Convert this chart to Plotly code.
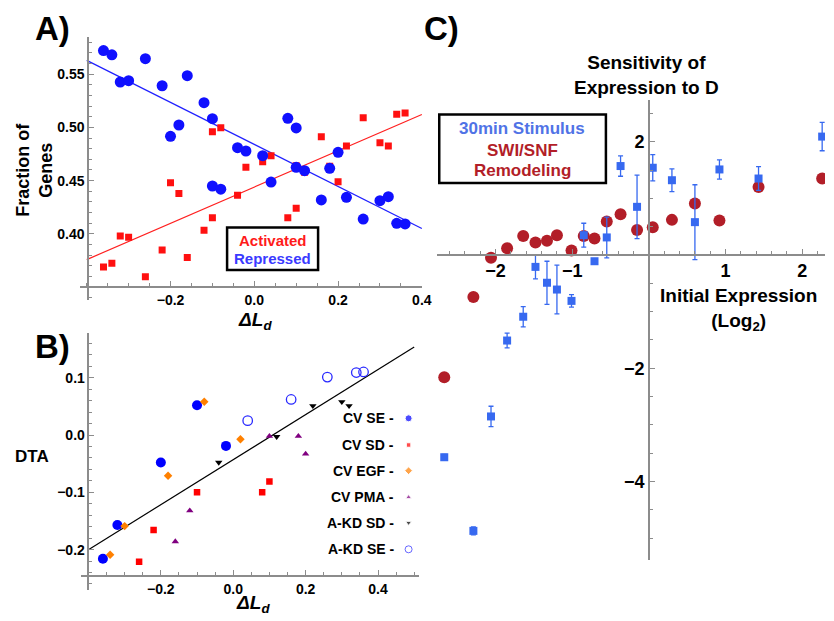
import plotly.graph_objects as go

# The page body adds an 8 px margin; the figure is sized to fill the rest of the window
OFF = 8
W, H = 834 - OFF, 621 - OFF
FONT = "Liberation Sans, Arial, Helvetica, sans-serif"
AX = "#8c8c8c"

# ---------------- Panel A data ----------------
a_x = [-0.36, -0.34, -0.32, -0.30, -0.26, -0.22, -0.20, -0.18, -0.16, -0.12,
       -0.10, -0.10, -0.08, -0.04, -0.02, 0.02, 0.04, 0.08, 0.10, 0.10,
       0.12, 0.16, 0.18, 0.20, 0.22, 0.26, 0.30, 0.32, 0.34, 0.36]
a_repressed = [0.572, 0.568, 0.5425, 0.5437, 0.5644, 0.539, 0.4916, 0.5022, 0.5484, 0.5231,
               0.5081, 0.445, 0.442, 0.4809, 0.4778, 0.4734, 0.4487, 0.5085, 0.4994, 0.4625,
               0.4594, 0.4319, 0.4616, 0.4766, 0.4344, 0.414, 0.4312, 0.435, 0.410, 0.4094]
a_activated = [0.369, 0.3725, 0.398, 0.397, 0.360, 0.385, 0.448, 0.438, 0.378, 0.4035,
               0.4959, 0.4153, 0.4997, 0.4363, 0.4625, 0.4678, 0.4734, 0.4153, 0.4241, 0.464,
               0.458, 0.4912, 0.4635, 0.449, 0.4825, 0.509, 0.4856, 0.4825, 0.5122, 0.5134]
a_fit_repressed = [0.484, -0.197]   # intercept, slope
a_fit_activated = [0.444, 0.170]
a_fit_x = [-0.4, 0.4]
a_xticks = [-0.2, 0.0, 0.2, 0.4]
a_xticktext = ["\u22120.2", "0.0", "0.2", "0.4"]
a_yticks = [0.40, 0.45, 0.50, 0.55]
a_yticktext = ["0.40", "0.45", "0.50", "0.55"]

# ---------------- Panel B data ----------------
b_cv_se_x = [-0.36, -0.32, -0.20, -0.10, -0.02]
b_cv_se_y = [-0.216, -0.157, -0.048, 0.052, -0.019]
b_cv_sd_x = [-0.26, -0.22, -0.10, 0.08, 0.10]
b_cv_sd_y = [-0.221, -0.166, -0.100, -0.100, -0.081]
b_cv_egf_x = [-0.34, -0.30, -0.18, -0.08, 0.02]
b_cv_egf_y = [-0.209, -0.159, -0.071, 0.058, -0.0075]
b_cv_pma_x = [-0.16, -0.12, 0.10, 0.18, 0.20]
b_cv_pma_y = [-0.186, -0.132, -0.002, -0.002, -0.033]
b_akd_sd_x = [-0.04, 0.12, 0.22, 0.30, 0.32]
b_akd_sd_y = [-0.048, -0.003, 0.051, 0.058, 0.051]
b_akd_se_x = [0.04, 0.16, 0.26, 0.34, 0.36]
b_akd_se_y = [0.025, 0.062, 0.101, 0.109, 0.110]
b_fit = [-0.043, 0.393]   # intercept, slope
b_fit_x = [-0.4, 0.5]
b_labels = ["CV SE -", "CV SD -", "CV EGF -", "CV PMA -", "A-KD SD -", "A-KD SE -"]
b_xticks = [-0.2, 0.0, 0.2, 0.4]
b_xticktext = ["\u22120.2", "0.0", "0.2", "0.4"]
b_yticks = [0.1, 0.0, -0.1, -0.2]
b_yticktext = ["0.1", "0.0", "\u22120.1", "\u22120.2"]

# ---------------- Panel C data ----------------
c_x = [-2.67, -2.29, -2.06, -1.85, -1.64, -1.48, -1.33, -1.20, -1.01, -0.85,
       -0.71, -0.55, -0.37, -0.155, 0.05, 0.30, 0.60, 0.92, 1.43, 2.26]
c_stimulus = [-3.57, -4.87, -2.85, -1.51, -1.09, -0.21, -0.49, -0.61, -0.81, 0.35,
              -0.11, 0.31, 1.57, 0.85, 1.54, 1.32, 0.58, 1.51, 1.35, 2.09]
c_stimulus_err = [0.05, 0.07, 0.18, 0.13, 0.18, 0.21, 0.38, 0.43, 0.11, 0.21,
                  0.03, 0.36, 0.18, 0.56, 0.23, 0.20, 0.66, 0.17, 0.21, 0.25]
c_swisnf = [-2.16, -0.74, -0.05, 0.12, 0.335, 0.22, 0.25, 0.35, 0.08, 0.335,
            0.29, 0.59, 0.72, 0.44, 0.49, 0.62, 0.91, 0.61, 1.20, 1.35]
c_xticks = [-2, -1, 1, 2]
c_xticktext = ["\u22122", "\u22121", "1", "2"]
c_yticks = [2, -2, -4]
c_yticktext = ["2", "\u22122", "\u22124"]

RED_A = "#ff1010"
BLUE_A = "#1010ff"
C_BLUE = "rgb(55,105,240)"
C_RED = "rgb(178,30,40)"


def px(x):
    return (x - OFF) / W


def py(y):
    return 1 - (y - OFF) / H


fig = go.Figure()

# ---- Panel A ----
fig.add_trace(go.Scatter(x=a_fit_x, y=[a_fit_activated[0] + a_fit_activated[1] * v for v in a_fit_x],
                         mode="lines", line=dict(color="#ff2020", width=1.2), xaxis="x", yaxis="y"))
fig.add_trace(go.Scatter(x=a_fit_x, y=[a_fit_repressed[0] + a_fit_repressed[1] * v for v in a_fit_x],
                         mode="lines", line=dict(color="#2020ff", width=1.2), xaxis="x", yaxis="y"))
fig.add_trace(go.Scatter(x=a_x, y=a_activated, mode="markers",
                         marker=dict(symbol="square", size=7, color=RED_A), xaxis="x", yaxis="y"))
fig.add_trace(go.Scatter(x=a_x, y=a_repressed, mode="markers",
                         marker=dict(symbol="circle", size=11, color=BLUE_A), xaxis="x", yaxis="y"))

# ---- Panel B ----
fig.add_trace(go.Scatter(x=b_fit_x, y=[b_fit[0] + b_fit[1] * v for v in b_fit_x],
                         mode="lines", line=dict(color="black", width=1.2), xaxis="x2", yaxis="y2"))
b_styles = [
    (b_cv_se_x, b_cv_se_y, "circle", 10, "#0000ff"),
    (b_cv_sd_x, b_cv_sd_y, "square", 6.5, "#ff0000"),
    (b_cv_egf_x, b_cv_egf_y, "diamond", 6.5, "#ff8000"),
    (b_cv_pma_x, b_cv_pma_y, "triangle-up", 6.5, "#800080"),
    (b_akd_sd_x, b_akd_sd_y, "triangle-down", 6.5, "#000000"),
    (b_akd_se_x, b_akd_se_y, "circle-open", 9.5, "#2a2aff"),
]
for xs, ys, sym, sz, col in b_styles:
    fig.add_trace(go.Scatter(x=xs, y=ys, mode="markers",
                             marker=dict(symbol=sym, size=sz, color=col,
                                         line=dict(width=1.3, color=col) if "open" in sym else dict(width=0)),
                             xaxis="x2", yaxis="y2"))

# legend keys for B (placed in a pixel-coordinate overlay)
legend_rows = [418.3, 445.0, 470.7, 497.3, 522.7, 549.3]
fig.add_trace(go.Scatter(x=[413] * 6, y=legend_rows, mode="markers",
                         marker=dict(symbol=["circle", "square", "diamond", "triangle-up", "triangle-down", "circle-open"],
                                     size=[7, 4.5, 6, 5.5, 5.5, 7],
                                     color=["#0000ff", "#ff0000", "#ff8000", "#800080", "#000000", "#2a2aff"],
                                     line=dict(width=1)),
                         xaxis="x4", yaxis="y4", cliponaxis=False))

# ---- Panel C ----
fig.add_trace(go.Scatter(x=c_x, y=c_swisnf, mode="markers",
                         marker=dict(symbol="circle", size=12, color=C_RED), xaxis="x3", yaxis="y3"))
fig.add_trace(go.Scatter(x=c_x, y=c_stimulus, mode="markers",
                         marker=dict(symbol="square", size=8, color=C_BLUE),
                         error_y=dict(type="data", array=c_stimulus_err, color=C_BLUE, thickness=1.3, width=2.5),
                         xaxis="x3", yaxis="y3"))

tickfont = dict(family=FONT, size=14, color="black", weight="bold")
tickfont_c = dict(family=FONT, size=18, color="black", weight="bold")


def axis(domain, rng, pos, tickvals, ticktext, minor_dtick, tf):
    return dict(domain=domain, range=rng, anchor="free", position=pos,
                showline=True, linecolor=AX, linewidth=1.6, showgrid=False, zeroline=False,
                ticks="inside", ticklen=5, tickwidth=1, tickcolor=AX,
                tickmode="array", tickvals=tickvals, ticktext=ticktext, tickfont=tf,
                minor=dict(ticks="inside", ticklen=3, tickwidth=1, tickcolor=AX,
                           dtick=minor_dtick, tick0=0, showgrid=False),
                fixedrange=True)


fig.update_layout(
    width=W, height=H, margin=dict(l=0, r=0, t=0, b=0),
    paper_bgcolor="white", plot_bgcolor="rgba(0,0,0,0)", showlegend=False,
    xaxis=axis([px(81), px(427)], [-0.4156, 0.4014], py(287), a_xticks, a_xticktext, 0.05, tickfont),
    yaxis=axis([py(300), py(37)], [0.3381, 0.5847], px(89), a_yticks, a_yticktext, 0.01, tickfont),
    xaxis2=axis([px(81.7), px(423.3)], [-0.4208, 0.5126], py(576), b_xticks, b_xticktext, 0.05, tickfont),
    yaxis2=axis([py(590), py(333)], [-0.2705, 0.178], px(89.3), b_yticks, b_yticktext, 0.02, tickfont),
    xaxis3=axis([px(441.7), 1.0], [-2.765, 2.297], py(255), c_xticks, c_xticktext, 0.2, tickfont_c),
    yaxis3=axis([py(560), py(100)], [-5.384, 2.736], px(656), c_yticks, c_yticktext, 0.5, tickfont_c),
    xaxis4=dict(domain=[0, 1], range=[OFF, OFF + W], visible=False, fixedrange=True, anchor="y4"),
    yaxis4=dict(domain=[0, 1], range=[OFF + H, OFF], visible=False, fixedrange=True, anchor="x4"),
)


def ann(text, x, y, size, color="black", angle=0, xanchor="center", yanchor="middle"):
    fig.add_annotation(text=text, x=px(x), y=py(y), xref="paper", yref="paper", showarrow=False,
                       font=dict(family=FONT, size=size, color=color, weight="bold"),
                       textangle=angle, xanchor=xanchor, yanchor=yanchor)


ann("A)", 53, OFF + 0.5, 33, yanchor="top")
ann("B)", 53, 347, 33)
ann("C)", 446, OFF + 0.5, 33, yanchor="top")
ann("Fraction of<br>Genes", 34, 170, 18, angle=-90)
ann("<i>\u0394L</i><sub><i>d</i></sub>", 258, 321, 19)
ann("<i>\u0394L</i><sub><i>d</i></sub>", 256, 604, 19)
ann("DTA", 32, 456, 17)
ann("Activated", 275.5, 240, 15, color="#ff1a1a")
ann("Repressed", 275.5, 258, 15, color="#3a3aff")
for lab, yy in zip(b_labels, legend_rows):
    ann(lab, 400, yy, 14, xanchor="right")
ann("Sensitivity of<br>Expression to D", 654, 75, 19)
ann("Initial Expression<br>(Log<sub>2</sub>)", 746.5, 309, 19)
ann("30min Stimulus", 528, 128.5, 17, color="rgb(80,115,230)")
ann("SWI/SNF", 528, 150, 17, color=C_RED)
ann("Remodeling", 528, 170.5, 17, color=C_RED)

# legend boxes
fig.add_shape(type="rect", xref="paper", yref="paper", x0=px(229.5), x1=px(321.5), y0=py(227.5), y1=py(270),
              line=dict(color="black", width=2.5))
fig.add_shape(type="rect", xref="paper", yref="paper", x0=px(444), x1=px(612.5), y0=py(114.5), y1=py(183),
              line=dict(color="black", width=2.5))

fig.write_html("out.html")
